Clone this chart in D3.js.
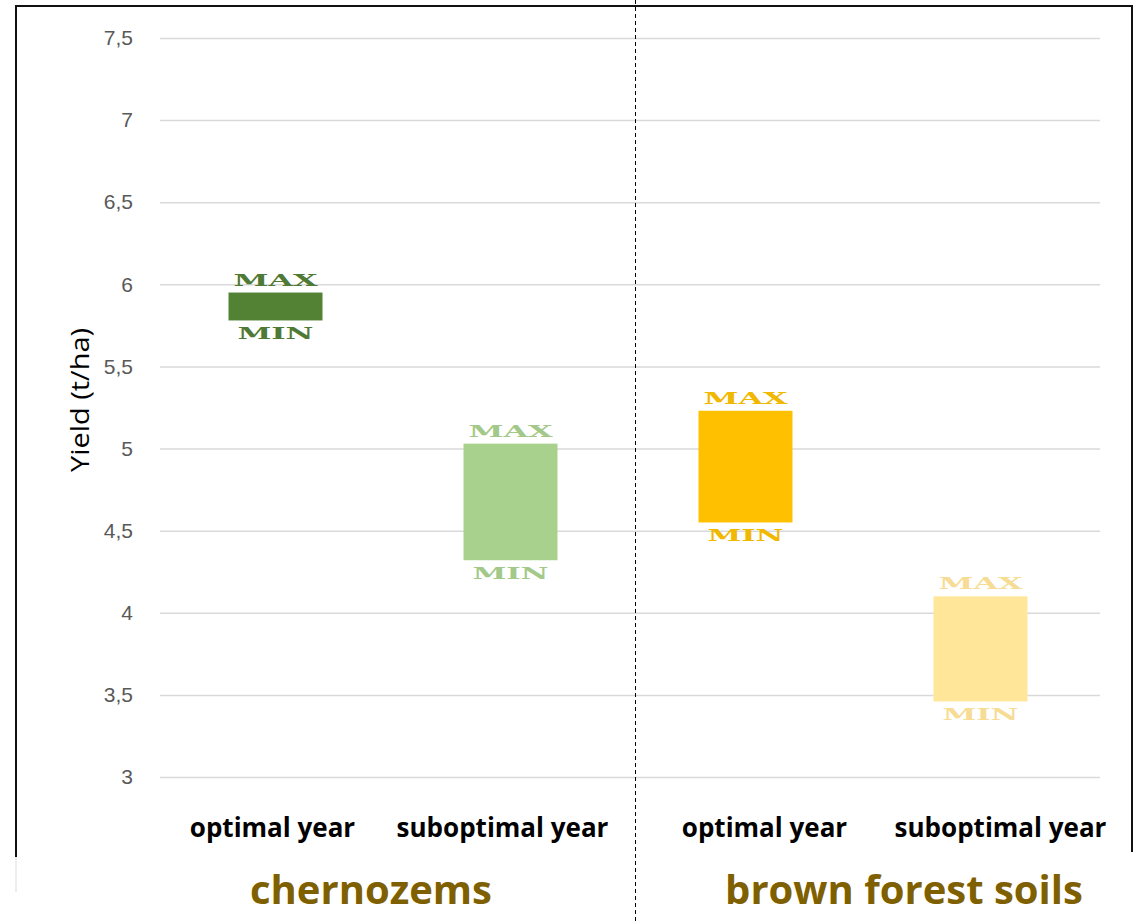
<!DOCTYPE html>
<html>
<head>
<meta charset="utf-8">
<script src="https://cdn.jsdelivr.net/npm/d3@7"></script>
<style>
  html, body { margin: 0; padding: 0; background: #ffffff; }
  svg { display: block; }
</style>
</head>
<body>
<svg id="chart" width="1142" height="921"></svg>
<script>
// ---- data ----
const categories = ["optimal year", "suboptimal year", "optimal year", "suboptimal year"];
const soilGroups = ["chernozems", "chernozems", "brown forest soils", "brown forest soils"];
const groupNames = ["chernozems", "brown forest soils"];
const maxValues = [5.95, 5.03, 5.23, 4.10];
const minValues = [5.78, 4.32, 4.55, 3.46];
const yTicks = [3, 3.5, 4, 4.5, 5, 5.5, 6, 6.5, 7, 7.5];
const yTitle = "Yield (t/ha)";

// ---- styles / layout ----
const barColors = ["#548235", "#a9d18e", "#ffc000", "#ffe699"];
const textColors = ["#4f7a35", "#a3c98a", "#f0b800", "#f7dc96"];
const catShift = [-3, -8, 19, 20];
const groupShift = [-22, 41];

const svg = d3.select("#chart");
const W = 1142, H = 921;

const plotLeft = 160, plotRight = 1100;
const y = d3.scaleLinear().domain([3, 7.5]).range([777, 38]);
const x = d3.scaleBand().domain(d3.range(categories.length)).range([158, 1098])
  .paddingInner(0.6).paddingOuter(0.3);

// frame
svg.append("rect").attr("x", 0).attr("y", 0).attr("width", W).attr("height", H).attr("fill", "#fff");
const frame = svg.append("g").attr("stroke", "#111").attr("stroke-width", 2).attr("fill", "none");
frame.append("path").attr("d", "M16,857 V6 H1132 V852");
svg.append("line").attr("x1", 16).attr("x2", 16).attr("y1", 857).attr("y2", 892)
  .attr("stroke", "#ddd").attr("stroke-width", 1);

// y axis with gridlines
const yAxis = d3.axisLeft(y)
  .tickValues(yTicks)
  .tickSize(-(plotRight - plotLeft))
  .tickPadding(27)
  .tickFormat(d => String(d).replace(".", ","));
const ga = svg.append("g").attr("transform", `translate(${plotLeft},0)`).call(yAxis);
ga.select(".domain").remove();
ga.selectAll(".tick line").attr("stroke", "#d9d9d9").attr("stroke-width", 1.5);
ga.selectAll(".tick text")
  .attr("fill", "#595959")
  .style("font-family", "'Liberation Sans', Arial, sans-serif")
  .style("font-size", "21px");

// y title
svg.append("text")
  .attr("transform", "translate(89,400) rotate(-90)")
  .attr("text-anchor", "middle")
  .attr("textLength", 144)
  .attr("lengthAdjust", "spacingAndGlyphs")
  .style("font-family", "'Open Sans', sans-serif")
  .style("font-size", "25px")
  .attr("fill", "#000")
  .text(yTitle);

// floating bars
const idx = d3.range(categories.length);
svg.append("g").selectAll("rect").data(idx).join("rect")
  .attr("x", i => x(i))
  .attr("width", x.bandwidth())
  .attr("y", i => y(maxValues[i]))
  .attr("height", i => y(minValues[i]) - y(maxValues[i]))
  .attr("fill", i => barColors[i]);

// MAX / MIN labels
const lblFont = "'DejaVu Serif', 'Liberation Serif', serif";
svg.append("g").selectAll("text").data(idx).join("text")
  .attr("x", i => x(i) + x.bandwidth() / 2)
  .attr("y", i => y(maxValues[i]) - 7)
  .attr("text-anchor", "middle")
  .attr("textLength", 84)
  .attr("lengthAdjust", "spacingAndGlyphs")
  .style("font-family", lblFont)
  .style("font-weight", "bold")
  .style("font-size", "16px")
  .attr("fill", i => textColors[i])
  .text("MAX");
svg.append("g").selectAll("text").data(idx).join("text")
  .attr("x", i => x(i) + x.bandwidth() / 2)
  .attr("y", i => y(minValues[i]) + 19)
  .attr("text-anchor", "middle")
  .attr("textLength", 76)
  .attr("lengthAdjust", "spacingAndGlyphs")
  .style("font-family", lblFont)
  .style("font-weight", "bold")
  .style("font-size", "16px")
  .attr("fill", i => textColors[i])
  .text("MIN");

// category labels
svg.append("g").selectAll("text").data(idx).join("text")
  .attr("x", i => x(i) + x.bandwidth() / 2 + catShift[i])
  .attr("y", 837)
  .attr("text-anchor", "middle")
  .style("font-family", "'Open Sans', sans-serif")
  .style("font-weight", "bold")
  .style("font-size", "26px")
  .attr("fill", "#000")
  .text(i => categories[i]);

// group labels
svg.append("g").selectAll("text").data(groupNames).join("text")
  .attr("x", (g, j) => {
    const members = idx.filter(i => soilGroups[i] === g);
    return d3.mean(members, i => x(i) + x.bandwidth() / 2) + groupShift[j];
  })
  .attr("y", 904)
  .attr("text-anchor", "middle")
  .style("font-family", "'Open Sans', sans-serif")
  .style("font-weight", "bold")
  .style("font-size", "40px")
  .attr("fill", "#7f6000")
  .text(g => g);

// dashed divider
svg.append("line")
  .attr("x1", 635.5).attr("x2", 635.5).attr("y1", 0).attr("y2", H)
  .attr("stroke", "#000").attr("stroke-width", 1)
  .attr("stroke-dasharray", "4,3");
</script>
</body>
</html>
